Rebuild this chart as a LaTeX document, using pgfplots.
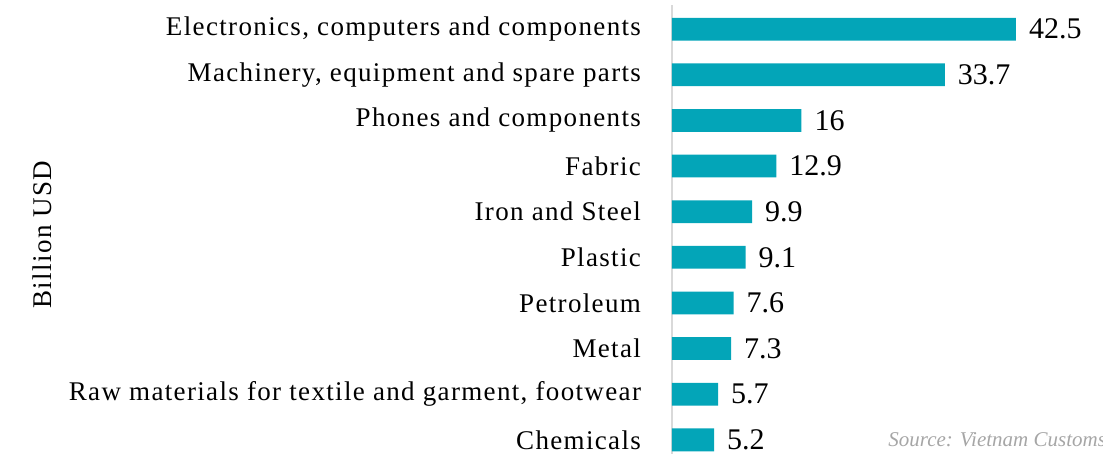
\documentclass[border=0pt]{standalone}
\usepackage{pgfplots}
\pgfplotsset{compat=1.18}
\usepackage{fontspec}
\setmainfont{Liberation Serif}
\newfontfamily\labelfont[LetterSpace=5]{Liberation Serif}
\definecolor{barteal}{HTML}{03A5B8}
\begin{document}
\begin{tikzpicture}
\useasboundingbox (-336pt,0pt) rectangle (215.5pt,227pt);
\begin{axis}[
  scale only axis,
  width=214pt, height=224.5pt,
  xbar,
  xmin=0, xmax=52.88,
  ymin=-0.31, ymax=9.53,
  bar width=0.5,
  hide x axis,
  axis y line*=left,
  y axis line style={draw=black!15, line width=0.8pt},
  ytick={0,...,9},
  yticklabels={Chemicals,{Raw materials for textile and garment, footwear},Metal,Petroleum,Plastic,{Iron and Steel},Fabric,{Phones and components},{Machinery, equipment and spare parts},{Electronics, computers and components}},
  major tick length=0pt,
  yticklabel style={font=\labelfont\fontsize{13.5}{15}\selectfont, xshift=-12pt},
  nodes near coords,
  point meta=explicit symbolic,
  every node near coord/.append style={font=\fontsize{15}{17}\selectfont, anchor=west, xshift=3pt, black},
  ylabel={Billion USD},
  every axis y label/.style={at={(axis description cs:0,0.5)}, xshift=-315pt, yshift=-2.5pt, rotate=90, anchor=center, font=\labelfont\fontsize{13.5}{15}\selectfont},
  clip=false,
]
\addplot[fill=barteal, draw=none] table[meta=label] {
x y label
5.2 0 5.2
5.7 1 5.7
7.3 2 7.3
7.6 3 7.6
9.1 4 9.1
9.9 5 9.9
12.9 6 12.9
16 7 16
33.7 8 33.7
42.5 9 42.5
};
\end{axis}
\node[anchor=base west, font=\fontsize{10.5}{13}\selectfont\itshape, text=black!35, inner sep=0pt] at (108pt,3.5pt) {Source: Vietnam Customs};
\end{tikzpicture}
\end{document}
